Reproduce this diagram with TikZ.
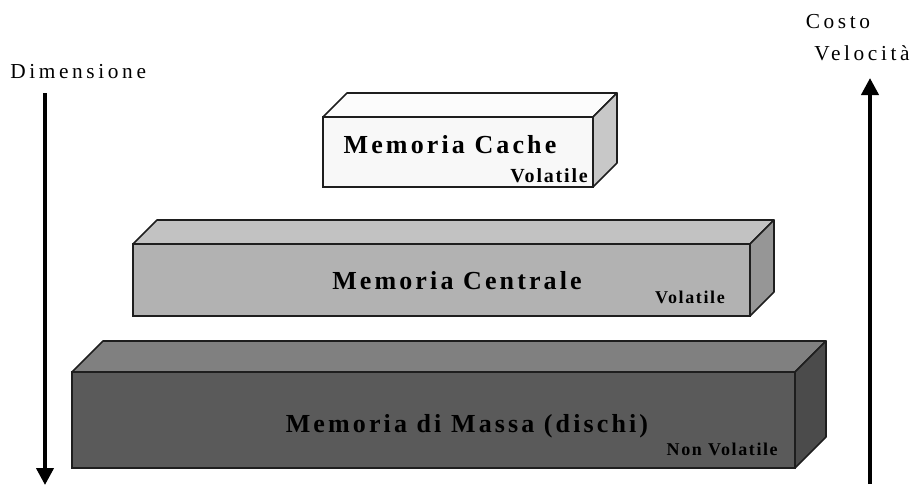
\documentclass[tikz,border=0pt]{standalone}
\usepackage{fontspec}
\setmainfont{Liberation Serif}
\newfontfamily\spaced[LetterSpace=12]{Liberation Serif}
\newfontfamily\halfspaced[LetterSpace=9]{Liberation Serif}
\newfontfamily\axisspaced[LetterSpace=17]{Liberation Serif}
\usetikzlibrary{arrows.meta}

\definecolor{edge}{HTML}{1E1E1E}
\definecolor{cachefront}{HTML}{F8F8F8}
\definecolor{cachetop}{HTML}{FCFCFC}
\definecolor{cacheside}{HTML}{C8C8C8}
\definecolor{centfront}{HTML}{B2B2B2}
\definecolor{centtop}{HTML}{C2C2C2}
\definecolor{centside}{HTML}{969696}
\definecolor{massfront}{HTML}{5A5A5A}
\definecolor{masstop}{HTML}{808080}
\definecolor{massside}{HTML}{4B4B4B}

% block: x0, y0, x1, y1, depth, front, top, side
\newcommand{\blocco}[8]{%
\path[draw=edge,fill=#7,line width=1.2pt,line join=round] (#1,#2) -- (#1+#5,#2-#5) -- (#3+#5,#2-#5) -- (#3,#2) -- cycle;
\path[draw=edge,fill=#8,line width=1.2pt,line join=round] (#3,#2) -- (#3+#5,#2-#5) -- (#3+#5,#4-#5) -- (#3,#4) -- cycle;
\path[draw=edge,fill=#6,line width=1.5pt] (#1,#2) rectangle (#3,#4);
}

\tikzset{
  titolo/.style={inner sep=0pt,anchor=base,font=\spaced\bfseries\fontsize{19.5}{20}\selectfont},
  nota/.style={inner sep=0pt,anchor=base east,font=\halfspaced\bfseries\fontsize{13.5}{14}\selectfont},
  asse/.style={inner sep=0pt,anchor=base,font=\axisspaced\fontsize{16}{17}\selectfont},
  freccia/.style={line width=3pt,-{Triangle[width=12.75pt,length=12.75pt]}}
}

\begin{document}
\begin{tikzpicture}[x=0.75pt,y=-0.75pt]
\useasboundingbox (0,0) rectangle (917,486);

\blocco{323}{117}{593}{187}{24}{cachefront}{cachetop}{cacheside}
\blocco{133}{244}{750}{316}{24}{centfront}{centtop}{centside}
\blocco{72}{372}{795}{468}{31}{massfront}{masstop}{massside}

\node[titolo] (cache) at (450,153) {Memoria Cache};
\node[nota,font=\halfspaced\bfseries\fontsize{15}{16}\selectfont] (cachevol) at (588,182) {Volatile};
\node[titolo] (centrale) at (457,289) {Memoria Centrale};
\node[nota] (centvol) at (725,303) {Volatile};
\node[titolo] (massa) at (467,432) {Memoria di Massa (dischi)};
\node[nota] (massvol) at (778,455) {Non Volatile};

\node[asse,anchor=base west] (dim) at (10,78) {Dimensione};
\node[asse] (costo) at (838,28) {Costo};
\node[asse] (vel) at (862,60) {Velocità};

\coordinate (dimtop) at (45,93);
\coordinate (dimbot) at (45,485);
\coordinate (velbot) at (870,484);
\coordinate (veltop) at (870,78);
\draw[freccia] (dimtop) -- (dimbot);
\draw[freccia] (velbot) -- (veltop);

\end{tikzpicture}
\end{document}
